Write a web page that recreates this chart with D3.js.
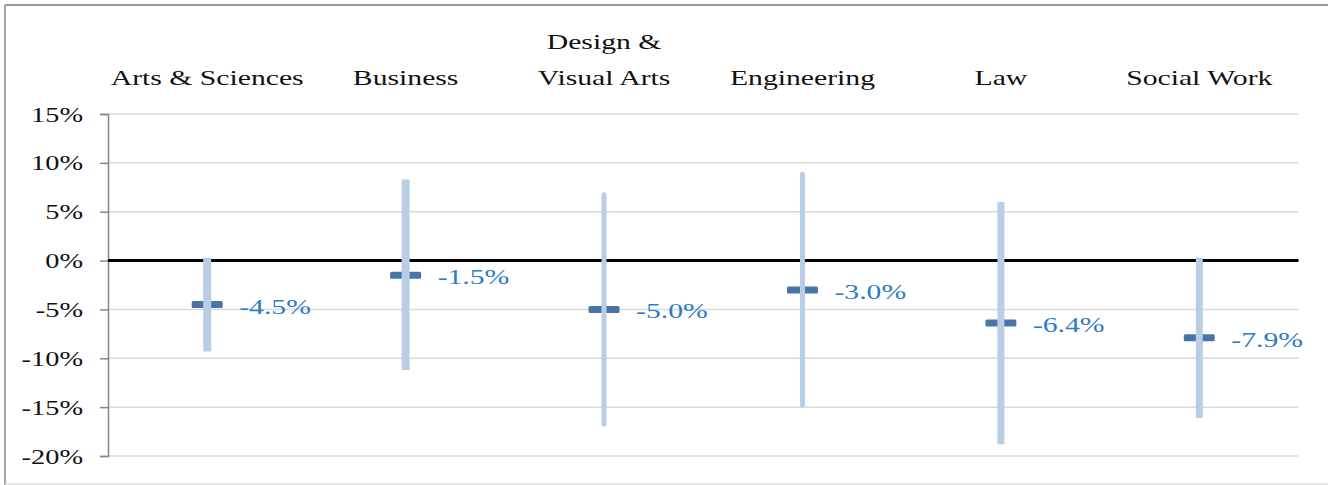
<!DOCTYPE html>
<html>
<head>
<meta charset="utf-8">
<script src="https://cdn.jsdelivr.net/npm/d3@7"></script>
<style>
  html, body { margin: 0; padding: 0; background: #fff; }
  svg { display: block; }
  text { font-family: "Liberation Serif", "Times New Roman", serif; }
</style>
</head>
<body>
<svg id="chart" width="1328" height="485"></svg>
<script>
// ---- data ----
const categories = [["Arts & Sciences"], ["Business"], ["Design &", "Visual Arts"], ["Engineering"], ["Law"], ["Social Work"]];
const meanValues = [-4.5, -1.5, -5.0, -3.0, -6.4, -7.9];
const highValues = [0.3, 8.3, 7.0, 9.1, 6.0, 0.3];
const lowValues = [-9.3, -11.2, -17.0, -15.0, -18.8, -16.1];
const yTicks = [15, 10, 5, 0, -5, -10, -15, -20];
// per-bar rendering style (not data)
const barStyle = [
  { w: 8, cap: "butt" }, { w: 8, cap: "butt" }, { w: 5, cap: "round" },
  { w: 5, cap: "round" }, { w: 7, cap: "butt" }, { w: 7, cap: "butt" }
];

const svg = d3.select("#chart");
const W = 1328, H = 485;
const margin = { left: 108, right: 30, top: 114, bottom: 29 };
const SX = 1.35; // horizontal stretch of the source's text

// frame
svg.append("line").attr("x1", 5).attr("x2", W).attr("y1", 5).attr("y2", 5)
  .attr("stroke", "#969696").attr("stroke-width", 2);
svg.append("line").attr("x1", 5).attr("x2", 5).attr("y1", 5).attr("y2", H)
  .attr("stroke", "#a6a6a6").attr("stroke-width", 2);
svg.append("line").attr("x1", 5).attr("x2", W).attr("y1", 484).attr("y2", 484)
  .attr("stroke", "#d9d9d9").attr("stroke-width", 1.5);

const idx = d3.range(categories.length);
const x = d3.scaleBand().domain(idx).range([margin.left, 1298.5]).paddingInner(0).paddingOuter(0);
const y = d3.scaleLinear().domain([-20, 15]).range([456, 114]);
const cx = i => x(i) + x.bandwidth() / 2;
const fmt = v => d3.format(".1f")(v).replace("\u2212", "-") + "%";

// gridlines
svg.append("g").selectAll("line").data(yTicks.filter(t => t !== 0)).join("line")
  .attr("x1", margin.left).attr("x2", 1298.5)
  .attr("y1", d => y(d)).attr("y2", d => y(d))
  .attr("stroke", "#d9d9d9").attr("stroke-width", 1.5);

// y axis
const yAxis = d3.axisLeft(y).tickValues(yTicks).tickSize(8).tickFormat(d => d + "%");
const ga = svg.append("g").attr("transform", `translate(${margin.left},0)`).call(yAxis);
ga.select(".domain").attr("stroke", "#868686").attr("stroke-width", 1.5);
ga.selectAll(".tick line").attr("stroke", "#868686").attr("stroke-width", 1.5);
ga.selectAll(".tick text")
  .attr("x", 0).attr("dy", null)
  .attr("font-size", 21).attr("fill", "#111").attr("text-anchor", "end")
  .attr("font-family", "Liberation Serif, serif")
  .attr("transform", `translate(-25,7) scale(${SX},1)`);

// zero line
svg.append("line").attr("x1", margin.left).attr("x2", 1298.5)
  .attr("y1", y(0)).attr("y2", y(0)).attr("stroke", "#000").attr("stroke-width", 3);

// category labels
const cl = svg.append("g").selectAll("text").data(idx).join("text")
  .attr("text-anchor", "middle").attr("font-size", 22).attr("fill", "#111")
  .attr("transform", i => `translate(${cx(i)},0) scale(${SX},1)`);
cl.each(function (i) {
  const lines = categories[i];
  const t = d3.select(this);
  lines.forEach((ln, k) => {
    t.append("tspan").attr("x", 0).attr("y", 85 - (lines.length - 1 - k) * 36).text(ln);
  });
});

// mean markers
svg.append("g").selectAll("rect").data(idx).join("rect")
  .attr("x", i => cx(i) - 15.5).attr("width", 31)
  .attr("y", i => y(meanValues[i]) - 3.5).attr("height", 7)
  .attr("rx", 1.5).attr("fill", "#4a74a8");

// range bars (drawn over markers)
svg.append("g").selectAll("line").data(idx).join("line")
  .attr("x1", i => cx(i)).attr("x2", i => cx(i))
  .attr("y1", i => y(highValues[i]) + (barStyle[i].cap === "round" ? barStyle[i].w / 2 : 0))
  .attr("y2", i => y(lowValues[i]) - (barStyle[i].cap === "round" ? barStyle[i].w / 2 : 0))
  .attr("stroke", "#b9cde5").attr("stroke-width", i => barStyle[i].w)
  .attr("stroke-linecap", i => barStyle[i].cap);

// value labels
svg.append("g").selectAll("text").data(idx).join("text")
  .attr("font-size", 22).attr("fill", "#2e7bc4")
  .attr("transform", i => `translate(${cx(i) + 32},${y(meanValues[i]) + 9}) scale(${SX},1)`)
  .text(i => fmt(meanValues[i]));
</script>
</body>
</html>
